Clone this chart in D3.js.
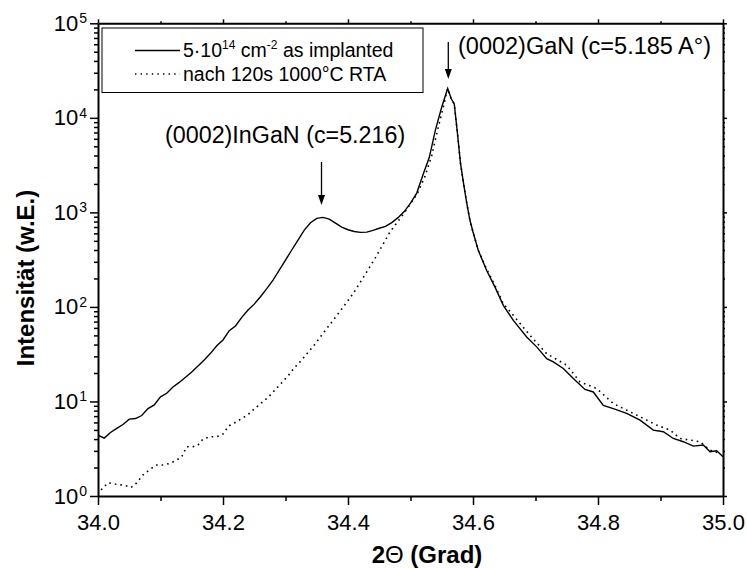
<!DOCTYPE html>
<html>
<head>
  <meta charset="utf-8">
  <title>XRD InGaN</title>
  <script src="https://d3js.org/d3.v7.min.js"></script>
  <style>
    body { margin: 0; background: #fff; }
    svg { font-family: "Liberation Sans", Arial, sans-serif; }
    .axis path, .axis line { stroke: #000; }
    .axis path { stroke-width: 2; }
    .axis line { stroke-width: 1.5; }
  </style>
</head>
<body>
<div id="chart"></div>
<script>
  // as implanted (solid)
  const implX = [34.00, 34.01, 34.02, 34.03, 34.04, 34.05, 34.06, 34.07, 34.08, 34.09,
    34.10, 34.11, 34.12, 34.13, 34.14, 34.15, 34.16, 34.17, 34.18, 34.19,
    34.20, 34.21, 34.22, 34.23, 34.24, 34.25, 34.26, 34.27, 34.28, 34.29,
    34.30, 34.31, 34.32, 34.33, 34.34, 34.35, 34.36, 34.37, 34.38, 34.39,
    34.40, 34.41, 34.42, 34.43, 34.44, 34.45, 34.46, 34.47, 34.48, 34.49,
    34.50, 34.51, 34.52, 34.53, 34.54, 34.55, 34.5595, 34.565, 34.57, 34.575,
    34.58, 34.585, 34.59, 34.595, 34.60, 34.6085, 34.6219, 34.6352, 34.6485, 34.6645,
    34.6859, 34.7019, 34.7179, 34.7285, 34.7445, 34.7605, 34.7792, 34.7925, 34.8085, 34.8245,
    34.8459, 34.8672, 34.8885, 34.9045, 34.9205, 34.9365, 34.9525, 34.9685, 34.9792, 34.9899, 35.00];
  const implY = [4.4, 4.1, 4.7, 5.2, 5.7, 6.5, 6.6, 7.1, 8.4, 9.2,
    11.2, 12.2, 14.2, 15.9, 18.0, 20.5, 23.7, 27.4, 32.3, 38.9,
    44.7, 56, 62.8, 77.5, 92.7, 107, 128, 156, 192, 245,
    313, 400, 510, 650, 777, 863, 885, 850, 770, 700,
    655, 628, 615, 618, 645, 680, 710, 780, 880, 1020,
    1250, 1600, 2500, 3800, 7500, 13000, 20400, 16000, 14000, 7000,
    3300, 2000, 1250, 830, 620, 396, 243, 162, 104, 72,
    48, 37.8, 28.4, 26.2, 22.3, 17.5, 13.4, 12.6, 9.1, 8.4,
    7.5, 6.35, 4.98, 4.78, 4.06, 3.75, 3.37, 3.46, 2.94, 3.01, 2.6];

  // nach 120s 1000°C RTA (dotted)
  const rtaX = [34.005, 34.016, 34.027, 34.037, 34.045, 34.053, 34.061, 34.072, 34.083, 34.094,
    34.104, 34.115, 34.126, 34.134, 34.142, 34.152, 34.160, 34.168, 34.179, 34.190,
    34.200, 34.209, 34.219, 34.230, 34.241, 34.251, 34.262, 34.273, 34.283, 34.294,
    34.305, 34.315, 34.326, 34.337, 34.348, 34.358, 34.3765, 34.3925, 34.4085, 34.426,
    34.4432, 34.4672, 34.4912, 34.511, 34.5232, 34.534, 34.5445, 34.5525, 34.558, 34.5595,
    34.565, 34.57, 34.575, 34.58, 34.585, 34.59, 34.595, 34.60, 34.6085, 34.6219,
    34.6352, 34.6485, 34.6645, 34.6912, 34.7179, 34.7499, 34.7712, 34.7979, 34.8245, 34.8512,
    34.8779, 34.8939, 34.9152, 34.9312, 34.9472, 34.9632, 34.9792, 34.9952];
  const rtaY = [1.16, 1.38, 1.34, 1.31, 1.28, 1.23, 1.36, 1.67, 1.91, 2.13,
    2.13, 2.21, 2.4, 2.6, 3.32, 3.32, 3.46, 4.0, 4.24, 4.24,
    4.52, 5.5, 5.96, 6.6, 7.36, 8.45, 9.7, 11.2, 13.2, 15.8,
    19, 23, 27.4, 33.6, 41.1, 50.4, 72.6, 100, 139, 213,
    326, 622, 1012, 1585, 2400, 4000, 8010, 13000, 18800, 20400,
    16000, 14000, 7000, 3300, 2000, 1250, 830, 620, 396, 250,
    168, 108, 81.5, 50, 32, 24.2, 16.1, 13.7, 9.5, 7.77,
    6.35, 5.62, 4.98, 4.06, 3.9, 3.75, 3.06, 2.82];

  const xTicksMajor = [34.0, 34.2, 34.4, 34.6, 34.8, 35.0];
  const xTicksMinor = [34.1, 34.3, 34.5, 34.7, 34.9];
  const yDecades = [1, 10, 100, 1000, 10000, 100000];

  const width = 747, height = 568;
  const plotLeft = 98, plotRight = 723, plotTop = 23.3, plotBottom = 496;

  const svg = d3.select("#chart").append("svg")
    .attr("width", width).attr("height", height);

  const x = d3.scaleLinear().domain([34, 35]).range([plotLeft, plotRight]);
  const y = d3.scaleLog().domain([1, 1e5]).range([plotBottom, plotTop]);

  const yMinor = [];
  yDecades.slice(0, -1).forEach(d => { for (let k = 2; k < 10; k++) yMinor.push(d * k); });

  // minor ticks
  svg.append("g").attr("class", "axis").attr("transform", `translate(0,${plotBottom})`)
    .call(d3.axisBottom(x).tickValues(xTicksMinor).tickSize(5).tickFormat(""))
    .select(".domain").remove();
  svg.append("g").attr("class", "axis").attr("transform", `translate(0,${plotTop})`)
    .call(d3.axisTop(x).tickValues(xTicksMinor).tickSize(2).tickFormat(""))
    .select(".domain").remove();
  svg.append("g").attr("class", "axis").attr("transform", `translate(${plotLeft},0)`)
    .call(d3.axisLeft(y).tickValues(yMinor).tickSize(4).tickFormat(""))
    .select(".domain").remove();
  svg.append("g").attr("class", "axis").attr("transform", `translate(${plotRight},0)`)
    .call(d3.axisRight(y).tickValues(yMinor).tickSize(2).tickFormat(""))
    .select(".domain").remove();

  // major axes
  const gx = svg.append("g").attr("class", "axis").attr("transform", `translate(0,${plotBottom})`)
    .call(d3.axisBottom(x).tickValues(xTicksMajor).tickSizeInner(9).tickSizeOuter(0)
      .tickPadding(9).tickFormat(d3.format(".1f")));
  gx.selectAll("text").style("font-size", "22px");

  svg.append("g").attr("class", "axis").attr("transform", `translate(0,${plotTop})`)
    .call(d3.axisTop(x).tickValues(xTicksMajor).tickSizeInner(4).tickSizeOuter(0).tickFormat(""));

  const gy = svg.append("g").attr("class", "axis").attr("transform", `translate(${plotLeft},0)`)
    .call(d3.axisLeft(y).tickValues(yDecades).tickSizeInner(8).tickSizeOuter(0)
      .tickPadding(19).tickFormat(() => "10"));
  gy.selectAll("text").style("font-size", "22px")
    .each(function (d) {
      d3.select(this).append("tspan")
        .attr("dy", "-0.55em").attr("dx", "1")
        .style("font-size", "14px")
        .text(Math.round(Math.log10(d)));
    });
  gy.selectAll("text").attr("x", -11);

  svg.append("g").attr("class", "axis").attr("transform", `translate(${plotRight},0)`)
    .call(d3.axisRight(y).tickValues(yDecades).tickSizeInner(4).tickSizeOuter(0).tickFormat(""));

  // clip
  svg.append("clipPath").attr("id", "clip")
    .append("rect").attr("x", plotLeft).attr("y", plotTop)
    .attr("width", plotRight - plotLeft).attr("height", plotBottom - plotTop);

  const line = d3.line().x(d => x(d[0])).y(d => y(d[1]));
  const implData = implX.map((v, i) => [v, implY[i]]);
  const rtaData = rtaX.map((v, i) => [v, rtaY[i]]);

  svg.append("path").datum(rtaData)
    .attr("clip-path", "url(#clip)")
    .attr("d", line).attr("fill", "none").attr("stroke", "#000")
    .attr("stroke-width", 1.6).attr("stroke-dasharray", "1.6,4");

  svg.append("path").datum(implData)
    .attr("clip-path", "url(#clip)")
    .attr("d", line).attr("fill", "none").attr("stroke", "#000")
    .attr("stroke-width", 1.4);

  // legend
  const lg = svg.append("g");
  lg.append("rect").attr("x", 102).attr("y", 28).attr("width", 321).attr("height", 64.5)
    .attr("fill", "#fff").attr("stroke", "#000").attr("stroke-width", 1);
  lg.append("line").attr("x1", 135).attr("x2", 180).attr("y1", 50.5).attr("y2", 50.5)
    .attr("stroke", "#000").attr("stroke-width", 1.4);
  lg.append("line").attr("x1", 135).attr("x2", 180).attr("y1", 74).attr("y2", 74)
    .attr("stroke", "#000").attr("stroke-width", 1.4).attr("stroke-dasharray", "1.4,4.2");

  const t1 = lg.append("text").attr("x", 183).attr("y", 57).style("font-size", "19.5px");
  t1.append("tspan").text("5·10");
  t1.append("tspan").attr("dy", -8).style("font-size", "12px").text("14");
  t1.append("tspan").attr("dy", 8).text(" cm");
  t1.append("tspan").attr("dy", -8).style("font-size", "12px").text("-2");
  t1.append("tspan").attr("dy", 8).text(" as implanted");

  lg.append("text").attr("x", 183).attr("y", 81).style("font-size", "19.5px")
    .text("nach 120s 1000°C RTA");

  // annotations
  function arrow(xp, y1, y2) {
    svg.append("line").attr("x1", xp).attr("x2", xp).attr("y1", y1).attr("y2", y2 - 8)
      .attr("stroke", "#000").attr("stroke-width", 1.3);
    svg.append("path")
      .attr("d", `M${xp - 3.5},${y2 - 10} L${xp + 3.5},${y2 - 10} L${xp},${y2} Z`)
      .attr("fill", "#000");
  }
  arrow(448.3, 42, 79);
  arrow(321.5, 162, 205);

  svg.append("text").attr("x", 458).attr("y", 54).style("font-size", "23.5px")
    .text("(0002)GaN (c=5.185 A°)");
  svg.append("text").attr("x", 165).attr("y", 143).style("font-size", "23.3px")
    .text("(0002)InGaN (c=5.216)");

  // axis titles
  const xt = svg.append("text").attr("x", 427).attr("y", 563).attr("text-anchor", "middle")
    .style("font-size", "24px").style("font-weight", "bold");
  xt.append("tspan").text("2");
  xt.append("tspan").style("font-weight", "normal").text("Θ");
  xt.append("tspan").text(" (Grad)");

  svg.append("text")
    .attr("transform", "translate(34,278) rotate(-90)")
    .attr("text-anchor", "middle")
    .style("font-size", "24px").style("font-weight", "bold")
    .text("Intensität (w.E.)");
</script>
</body>
</html>
